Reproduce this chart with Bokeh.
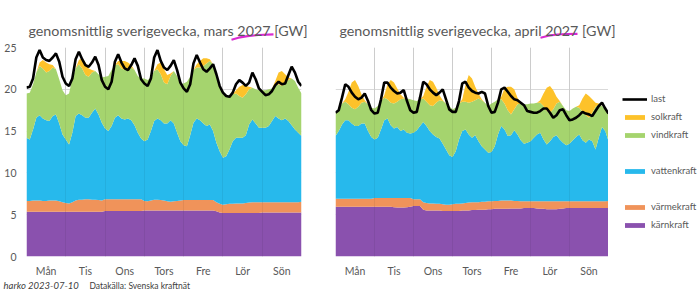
import numpy as np
from bokeh.plotting import figure
from bokeh.layouts import row, column
from bokeh.models import (Range1d, FixedTicker, Legend, LegendItem, Label, Grid)
from bokeh.embed import file_html
from bokeh.resources import INLINE

# ---------------- data (GW, every 2nd hour, Mon 00:00 .. Sun 24:00) ----------------
days = ["Mån", "Tis", "Ons", "Tors", "Fre", "Lör", "Sön"]
hours = list(range(0, 169, 2))

mars_karn = [5.35]*12 + [5.35]*12 + [5.45]*12 + [5.5]*12 + \
    [5.5]*10 + [5.4, 5.25] + [5.2]*12 + [5.25]*12 + [5.25]
mars_varme = [1.3, 1.3, 1.35, 1.35, 1.35, 1.3, 1.3, 1.35, 1.35, 1.35, 1.25, 1.15,
              1.05, 1.0, 1.15, 1.35, 1.45, 1.45, 1.5, 1.5, 1.45, 1.45, 1.4, 1.35,
              1.4, 1.4, 1.4, 1.4, 1.4, 1.4, 1.4, 1.4, 1.4, 1.4, 1.4, 1.4,
              1.15, 1.1, 1.2, 1.3, 1.3, 1.25, 1.2, 1.1, 1.05, 1.1, 1.15, 1.2,
              1.25, 1.25, 1.25, 1.25, 1.25, 1.25, 1.25, 1.25, 1.25, 1.25, 1.1, 1.05,
              1.0, 1.05, 1.1, 1.1, 1.15, 1.15, 1.15, 1.2, 1.25, 1.3, 1.3, 1.3,
              1.25, 1.25, 1.25, 1.25, 1.25, 1.25, 1.25, 1.25, 1.25, 1.25, 1.25, 1.25, 1.3]
mars_vatten = [7.55, 7.35, 8.5, 9.9, 10.2, 9.85, 9.65, 9.5, 10.1, 10.3, 9.3, 8.1,
               7.6, 7.05, 8.3, 10.1, 10.3, 10.1, 9.75, 9.75, 10.4, 10.9, 10.25, 9.3,
               8.45, 8.15, 8.75, 9.75, 10.05, 9.65, 9.55, 9.65, 9.45, 8.85, 7.95, 7.25,
               7.15, 7.4, 8.3, 9.4, 9.7, 9.55, 9.2, 9.3, 9.75, 9.3, 8.15, 7.1,
               6.55, 6.45, 7.75, 9.25, 9.75, 9.55, 9.15, 8.85, 9.05, 8.25, 7.1, 6.3,
               5.6, 5.75, 6.5, 7.5, 7.85, 7.85, 7.85, 8.1, 9.35, 9.9, 9.4, 8.9,
               8.9, 8.9, 9.1, 9.7, 10.3, 10.0, 9.8, 10.0, 9.7, 9.2, 8.7, 8.3, 7.85]
mars_vind = [5.3, 5.6, 5.4, 5.4, 5.9, 6.0, 5.7, 6.0, 5.8, 5.4, 5.3, 5.3,
             5.3, 6.1, 6.5, 5.7, 5.9, 5.6, 5.1, 4.9, 4.8, 4.5, 4.8, 5.4,
             6.2, 6.6, 6.7, 6.3, 6.1, 6.0, 5.9, 5.9, 6.3, 6.6, 6.8, 7.2,
             7.5, 7.1, 6.4, 6.0, 5.9, 5.5, 4.9, 4.7, 5.3, 6.3, 6.8, 6.8,
             7.4, 7.7, 7.0, 6.3, 6.1, 6.3, 6.9, 7.5, 7.6, 8.0, 8.2, 7.7,
             7.6, 7.2, 6.4, 5.6, 5.3, 5.0, 4.8, 4.9, 4.2, 3.8, 4.1, 4.5,
             4.5, 4.5, 4.4, 3.9, 3.7, 4.1, 4.1, 4.3, 4.9, 5.6, 5.8, 5.4, 5.1]
mars_sol = [0, 0, 0, 0, 0.4, 1.0, 1.2, 0.8, 0.3, 0, 0, 0,
            0, 0, 0, 0, 0.5, 1.2, 1.5, 1.0, 0.3, 0, 0, 0,
            0, 0, 0, 0, 0.4, 0.9, 1.1, 0.8, 0.3, 0, 0, 0,
            0, 0, 0, 0, 0.6, 1.4, 1.6, 1.1, 0.3, 0, 0, 0,
            0, 0, 0, 0, 0.4, 0.8, 0.9, 0.6, 0.2, 0, 0, 0,
            0, 0, 0, 0, 0.4, 1.1, 1.5, 1.0, 0.3, 0, 0, 0,
            0, 0, 0, 0, 0.5, 1.4, 1.8, 1.0, 0.3, 0, 0, 0, 0]
mars_last = [20.2, 20.3, 21.3, 23.8, 24.7, 23.8, 23.5, 23.4, 23.8, 24.3, 23.3, 21.5,
             20.7, 20.4, 21.3, 23.6, 24.5, 23.6, 22.9, 22.7, 23.2, 23.9, 22.9, 21.1,
             20.3, 20.0, 20.9, 23.3, 24.2, 23.2, 22.5, 22.3, 22.9, 23.7, 22.8, 21.2,
             20.7, 20.4, 21.3, 23.8, 24.7, 23.4, 22.6, 22.3, 22.8, 23.5, 22.3, 20.8,
             20.1, 19.7, 20.6, 23.1, 24.1, 23.2, 22.4, 22.1, 22.5, 23.0, 21.8, 20.4,
             19.6, 19.2, 19.1, 19.6, 20.6, 21.1, 20.8, 20.4, 20.8, 22.0, 21.2, 20.1,
             19.7, 19.3, 19.4, 19.8, 20.5, 20.9, 20.6, 20.7, 21.7, 22.7, 22.0, 20.9, 20.4]

april_karn = [5.95]*12 + \
    [5.95, 5.95, 5.95, 5.95, 5.95, 5.95, 5.9, 5.85, 5.85, 5.85, 5.9, 5.95] + \
    [6.05, 6.05, 6.05, 5.6, 5.5, 5.5, 5.5, 5.5, 5.5, 5.45, 5.45, 5.45] + \
    [5.45, 5.45, 5.45, 5.5, 5.5, 5.5, 5.55, 5.55, 5.6, 5.6, 5.6, 5.65] + \
    [5.65, 5.7, 5.7, 5.7, 5.7, 5.7, 5.75, 5.75, 5.75, 5.75, 5.8, 5.8] + \
    [5.8, 5.8, 5.75, 5.7, 5.7, 5.65, 5.65, 5.65, 5.65, 5.7, 5.75, 5.8] + \
    [5.8]*12 + [5.8]
april_varme = [0.95]*12 + \
    [1.05, 1.05, 1.05, 1.05, 1.05, 1.05, 1.1, 1.15, 1.15, 1.15, 1.1, 1.05] + \
    [0.8, 0.8, 0.8, 0.9, 0.9, 0.85, 0.85, 0.8, 0.8, 0.8, 0.75, 0.75] + \
    [0.8, 0.85, 0.85, 0.85, 0.9, 0.95, 0.95, 0.95, 0.9, 0.95, 0.95, 0.95] + \
    [0.95, 0.95, 0.95, 1.0, 1.0, 1.0, 0.95, 0.9, 0.9, 0.85, 0.8, 0.8] + \
    [0.8, 0.8, 0.85, 0.9, 0.9, 0.95, 0.95, 0.95, 0.95, 0.9, 0.85, 0.8] + \
    [0.8]*12 + [0.85]
april_vatten = [7.5, 8.1, 8.9, 9.4, 9.4, 9.0, 8.7, 8.7, 9.0, 9.0, 8.1, 7.4,
                7.0, 7.2, 8.2, 9.3, 9.5, 8.7, 8.3, 8.5, 8.0, 8.2, 7.8, 7.7,
                7.95, 8.25, 8.75, 9.6, 9.2, 8.65, 8.25, 8.0, 7.8, 7.25, 6.6, 5.9,
                5.65, 6.3, 7.7, 8.65, 8.8, 8.15, 7.7, 8.0, 7.3, 6.65, 6.25, 5.8,
                5.9, 6.55, 7.95, 8.9, 8.5, 7.7, 7.8, 8.45, 7.95, 7.3, 6.9, 7.0,
                7.2, 7.6, 8.0, 8.2, 7.4, 6.8, 7.2, 7.7, 7.9, 7.4, 7.0, 6.7,
                6.9, 7.3, 7.7, 8.0, 7.3, 7.0, 7.4, 7.2, 6.2, 7.6, 8.9, 8.4, 7.15]
april_vind = [2.8, 2.6, 2.5, 2.2, 1.9, 1.9, 2.0, 2.3, 2.5, 2.6, 3.2, 3.5,
              3.7, 3.8, 3.4, 2.7, 2.3, 2.7, 3.0, 3.0, 3.8, 3.7, 4.1, 4.1,
              3.9, 3.5, 3.2, 2.8, 2.9, 3.1, 3.4, 4.1, 4.6, 5.1, 5.5, 5.9,
              5.7, 5.2, 4.3, 3.5, 3.3, 3.8, 4.3, 4.2, 5.1, 5.5, 5.6, 5.6,
              5.8, 5.3, 4.2, 3.2, 3.1, 3.1, 2.5, 2.5, 3.6, 4.4, 4.7, 4.6,
              4.5, 4.1, 3.8, 3.6, 4.0, 4.0, 3.4, 3.3, 3.8, 4.5, 4.4, 4.2,
              3.9, 3.8, 3.6, 3.2, 3.4, 3.3, 2.6, 3.4, 5.1, 4.0, 2.5, 2.6, 3.3]
april_sol = [0, 0, 0, 0.3, 1.5, 3.0, 3.5, 2.5, 1.0, 0.2, 0, 0,
             0, 0, 0, 0.3, 1.8, 2.7, 2.5, 1.6, 0.6, 0.1, 0, 0,
             0, 0, 0, 0.3, 1.8, 3.0, 2.9, 1.8, 0.6, 0.1, 0, 0,
             0, 0, 0, 0.3, 2.0, 3.3, 2.8, 1.6, 0.6, 0.1, 0, 0,
             0, 0, 0, 0.3, 1.8, 2.8, 3.3, 2.4, 0.8, 0.1, 0, 0,
             0, 0, 0, 0.3, 1.5, 2.8, 3.2, 2.3, 0.8, 0.1, 0, 0,
             0, 0, 0, 0.3, 1.6, 2.6, 2.6, 1.6, 0.5, 0.1, 0, 0, 0]
april_last = [17.2, 17.5, 19.0, 20.6, 20.3, 19.6, 19.1, 18.8, 19.0, 19.5, 18.6, 17.5,
              17.1, 17.2, 18.8, 20.8, 20.8, 20.2, 19.8, 19.5, 19.6, 19.9, 18.6, 17.5,
              17.2, 17.3, 19.0, 20.9, 20.6, 20.0, 19.6, 19.3, 19.6, 20.0, 18.8, 17.6,
              17.3, 17.3, 18.6, 20.7, 20.9, 20.2, 19.8, 19.6, 19.5, 19.7, 19.5, 18.0,
              17.2, 17.3, 18.4, 20.0, 20.2, 19.7, 19.2, 18.8, 18.7, 18.4, 18.1, 17.4,
              17.3, 17.2, 17.2, 17.4, 17.7, 17.7, 17.2, 16.6, 16.9, 17.5, 17.6, 16.9,
              16.3, 16.4, 16.6, 16.9, 17.3, 17.1, 17.0, 16.8, 17.4, 18.0, 18.4, 17.7, 17.1]

titles = ["genomsnittlig sverigevecka, mars 2027 [GW]",
          "genomsnittlig sverigevecka, april 2027 [GW]"]
series_names = ["kärnkraft", "värmekraft", "vattenkraft", "vindkraft", "solkraft"]
series_colors = ["#8a51ae", "#f0935a", "#27b9ec", "#a5d46e", "#fdc22a"]
footer_author = "harko 2023-07-10"
footer_source = "Datakälla: Svenska kraftnät"

FONT = "Lato"
GREY = "#595959"
TOTAL_W, TOTAL_H = 700, 304
HEAD_H = 42          # title strip
FOOT_H = 25          # footer strip
PLOT_H = TOTAL_H - HEAD_H - FOOT_H
TOP_B, BOT_B = 5, 20  # frame spans y = 47 .. 259 of the page


def make_chart(comps, last, width, bl, br, show_y):
    p = figure(width=width, height=PLOT_H, x_range=Range1d(0, 168), y_range=Range1d(0, 25),
               output_backend="svg", toolbar_location=None, title=None,
               min_border_left=bl, min_border_right=br,
               min_border_top=TOP_B, min_border_bottom=BOT_B)
    p.outline_line_color = None

    base = np.zeros(len(hours))
    rs = {}
    for name, vals, col in zip(series_names, comps, series_colors):
        top = base + np.array(vals)
        rs[name] = p.varea(x=hours, y1=base, y2=top, fill_color=col)
        base = top
    rs["last"] = p.line(hours, last, line_color="black", line_width=2.6)

    p.xaxis.ticker = FixedTicker(ticks=[12 + 24 * i for i in range(7)])
    p.xaxis.major_label_overrides = {12 + 24 * i: d for i, d in enumerate(days)}
    p.yaxis.ticker = FixedTicker(ticks=[0, 5, 10, 15, 20, 25])
    for ax in (p.xaxis[0], p.yaxis[0]):
        ax.axis_line_color = None
        ax.major_tick_line_color = None
        ax.minor_tick_line_color = None
        ax.major_tick_out = 0
        ax.major_tick_in = 0
        ax.major_label_text_font = FONT
        ax.major_label_text_font_size = "10.5px"
        ax.major_label_text_color = GREY
    p.xaxis.major_label_standoff = 8
    p.yaxis.major_label_standoff = 10
    p.yaxis.visible = show_y

    day_edges = FixedTicker(ticks=[24 * i for i in range(8)])
    p.xgrid.ticker = day_edges
    p.xgrid.grid_line_color = "#d9d9d9"
    p.add_layout(Grid(dimension=0, ticker=day_edges, level="overlay",
                      grid_line_color="black", grid_line_alpha=0.06))
    p.ygrid.ticker = FixedTicker(ticks=[0, 5, 10, 15, 20, 25])
    p.ygrid.grid_line_color = "#d9d9d9"
    return p, rs


def strip(width, height):
    s = figure(width=width, height=height, x_range=Range1d(0, width),
               y_range=Range1d(height, 0), output_backend="svg", toolbar_location=None,
               x_axis_type=None, y_axis_type=None, min_border=0, title=None)
    s.outline_line_color = None
    s.grid.visible = False
    return s


W1, BL1, BR1 = 318, 26, 17
W2, BL2, BR2 = 290, 17, 0
WL = TOTAL_W - W1 - W2   # legend column

p1, _ = make_chart([mars_karn, mars_varme, mars_vatten, mars_vind, mars_sol],
                   mars_last, W1, BL1, BR1, True)
p2, rs2 = make_chart([april_karn, april_varme, april_vatten, april_vind, april_sol],
                     april_last, W2, BL2, BR2, False)

# legend column: same styles as the chart series; blank rows keep the uneven spacing
lg = strip(WL, PLOT_H)
proxies = {"last": lg.line([-5, -4], [-5, -5], line_color="black", line_width=2.6)}
for name, col in zip(series_names, series_colors):
    proxies[name] = lg.varea(x=[-5, -4], y1=[-5, -5], y2=[-5, -5], fill_color=col)
blank = lg.varea(x=[-5, -4], y1=[-5, -5], y2=[-5, -5], fill_alpha=0)
legend_rows = ["last", "solkraft", "vindkraft", None, "vattenkraft", None,
               "värmekraft", "kärnkraft"]
items = [LegendItem(label=(lab if lab else " "), renderers=[proxies[lab] if lab else blank])
         for lab in legend_rows]
ITEM_H, SPACING = 14, 4
leg_h = len(items) * ITEM_H + (len(items) - 1) * SPACING
first_center = 97.3 - HEAD_H            # y of the first row inside this column
legend = Legend(items=items,
                location=(622 - (W1 + W2),
                          PLOT_H - (first_center - ITEM_H / 2) - leg_h - 24.5),
                glyph_width=25, glyph_height=6, label_height=ITEM_H, label_width=10,
                label_standoff=4, padding=0, margin=0, spacing=SPACING,
                border_line_color=None, background_fill_alpha=0,
                label_text_font=FONT, label_text_font_size="9.5px",
                label_text_color=GREY)
lg.add_layout(legend)

# title strip
head = strip(TOTAL_W, HEAD_H)
for tx, t in zip([28, 339], titles):
    head.add_layout(Label(x=tx, y=30, text=t, text_font=FONT, text_font_size="14.3px",
                          text_color=GREY, text_baseline="alphabetic"))
head.line([231, 238, 247, 258, 273], [39.2, 37.2, 35.6, 34.5, 33.9],
          line_color="#d92ad0", line_width=2.2)
head.line([540, 548, 557, 566, 577], [37.2, 35.2, 34.0, 33.5, 33.3],
          line_color="#d92ad0", line_width=2.2)

# footer strip
foot = strip(TOTAL_W, FOOT_H)
foot.add_layout(Label(x=3, y=6, text=footer_author, text_font=FONT, text_font_style="italic",
                      text_font_size="9.5px", text_color="#404040", text_baseline="middle"))
foot.add_layout(Label(x=89, y=6, text=footer_source, text_font=FONT,
                      text_font_size="8.5px", text_color="#404040", text_baseline="middle"))

layout = column(head, row(p1, p2, lg), foot)
open("out.html", "w").write(file_html(layout, INLINE))
